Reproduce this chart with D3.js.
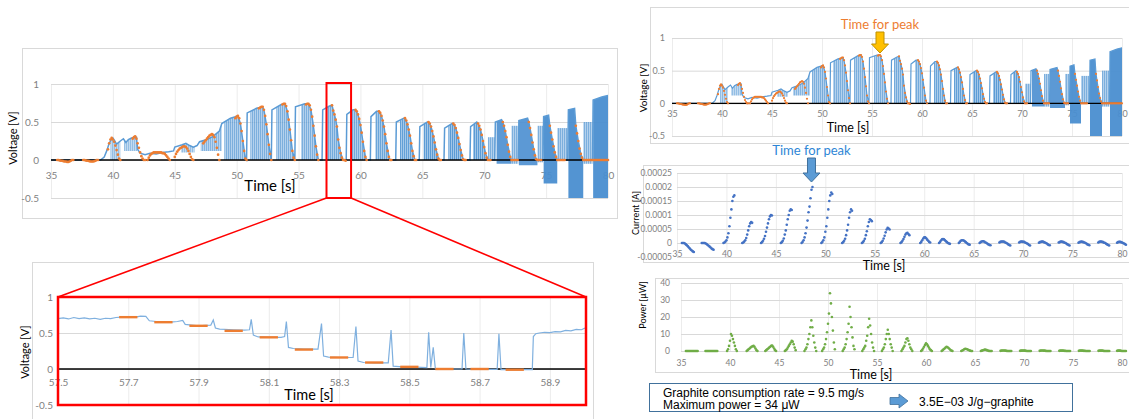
<!DOCTYPE html>
<html>
<head>
<meta charset="utf-8">
<script src="https://cdn.jsdelivr.net/npm/d3@7"></script>
<style>
  body { margin: 0; background: #fff; }
  svg { display: block; }
</style>
</head>
<body>
<svg id="fig" width="1129" height="419"></svg>
<script>
// ---- data ----
var timeTicks = [35, 40, 45, 50, 55, 60, 65, 70, 75, 80];
var voltTicks = [1, 0.5, 0, -0.5];
var zoomTicks = [57.5, 57.7, 57.9, 58.1, 58.3, 58.5, 58.7, 58.9];
var currentTicks = [0.00025, 0.0002, 0.00015, 0.0001, 0.00005, 0, -0.00005];
var powerTicks = [0, 10, 20, 30, 40];

var dt = 0.1;            // sample interval of the dotted series [s]
var voltPeakT = 55.8;    // "Time for peak" on voltage
var currentPeakT = 48.6; // "Time for peak" on current
var zoomRange = [57.5, 59.0];

// upper envelope of the blue voltage trace [t, V]
var voltTop = [[35,0],[39.0,0],[39.3,0.04],[39.5,0.12],[39.7,0.22],[39.9,0.28],[40.0,0.29],[40.15,0.25],[40.3,0.21],
  [40.6,0.25],[40.85,0.28],[41.05,0.23],[41.25,0.27],[41.5,0.29],[41.9,0.3],[42.0,0.14],[42.2,0.09],[42.6,0.07],
  [43.0,0.09],[43.5,0.08],[44.0,0.1],[44.5,0.11],[44.9,0.12],[45.0,0.17],[45.6,0.2],[45.9,0.22],[46.2,0.19],
  [46.5,0.17],[46.8,0.19],[47.0,0.24],[47.6,0.27],[48.1,0.31],[48.6,0.38],[48.8,0.48],[49.5,0.55],[49.9,0.57],
  [50.1,0.58],[50.3,0.48],[50.5,0.25],[50.7,0.02],[50.8,0],[50.85,0.62],[51.6,0.68],[52.1,0.7],[52.2,0.66],
  [52.4,0.47],[52.6,0.2],[52.8,0],[52.85,0.66],[53.6,0.73],[53.9,0.74],[54.1,0.64],[54.3,0.4],[54.5,0.12],
  [54.7,0],[54.75,0.7],[55.5,0.74],[55.8,0.74],[56.0,0.66],[56.2,0.45],[56.4,0.18],[56.6,0],[56.9,0],
  [56.95,0.66],[57.5,0.71],[57.7,0.72],[58.0,0.53],[58.1,0.44],[58.2,0.27],[58.4,0.09],[58.6,0],[58.85,0],
  [58.9,0.6],[59.4,0.66],[59.6,0.66],[59.8,0.6],[60.0,0.46],[60.2,0.24],[60.4,0.04],[60.5,0],[60.8,0],
  [60.85,0.57],[61.3,0.64],[61.5,0.64],[61.7,0.58],[61.9,0.44],[62.1,0.22],[62.3,0.04],[62.4,0],[62.85,0],
  [62.9,0.5],[63.5,0.55],[63.6,0.55],[63.8,0.47],[64.0,0.32],[64.2,0.12],[64.4,0],[64.75,0],[64.8,0.44],
  [65.4,0.5],[65.5,0.5],[65.7,0.44],[65.9,0.31],[66.1,0.14],[66.3,0.02],[66.4,0],[66.75,0],[66.8,0.42],
  [67.4,0.48],[67.5,0.48],[67.7,0.42],[67.9,0.29],[68.1,0.13],[68.3,0.01],[68.4,0],[68.85,0],[68.9,0.44],
  [69.4,0.5],[69.5,0.48],[69.7,0.4],[69.9,0.25],[70.1,0.09],[70.3,0],[70.85,0],[70.9,0.5],[71.4,0.53],
  [71.5,0.5],[71.7,0.38],[71.9,0.2],[72.1,0.04],[72.2,0],[72.75,0],[72.8,0.52],[73.5,0.55],[73.6,0.5],
  [73.8,0.33],[74.0,0.14],[74.2,0.01],[74.3,0],[74.75,0],[74.8,0.57],[75.2,0.59],[75.3,0.45],[75.5,0.27],
  [75.7,0.1],[75.9,0],[76.75,0],[76.8,0.66],[77.3,0.68],[77.4,0.45],[77.6,0.25],[77.8,0.08],[78.0,0],
  [78.75,0],[78.8,0.79],[79.5,0.83],[80,0.85]];

// dense blue switching zones under the envelope
var hatchStart = [39.8, 40.9, 45.5, 47.1, 49.0, 51.1, 53.2, 55.2, 57.2, 59.3, 61.2, 63.2, 65.1, 67.1, 69.1, 71.0, 72.8, 74.8, 76.8, 78.8];
var hatchEnd   = [40.6, 42.0, 46.6, 48.8, 50.8, 52.8, 54.7, 56.6, 58.6, 60.5, 62.4, 64.4, 66.4, 68.4, 70.3, 72.2, 74.3, 75.9, 78.0, 80.0];
var hatchLow   = [0, 0.12, 0.1, 0.12, 0, 0, 0, 0, 0, 0, 0, 0, 0, 0, 0, -0.05, -0.07, -0.31, -0.5, -0.5];
var hatchAlpha = [0.4, 0.4, 0.4, 0.5, 0.55, 0.55, 0.55, 0.55, 0.6, 0.6, 0.65, 0.7, 0.75, 0.75, 0.8, 0.9, 0.9, 0.95, 0.95, 0.95];
// lighter spike bands between the late cycles
var bandStart = [70.3, 72.2, 74.3, 75.9, 78.0];
var bandEnd   = [70.85, 72.75, 74.75, 76.75, 78.75];
var bandHigh  = [0.3, 0.45, 0.45, 0.42, 0.5];
var bandLow   = [0, -0.05, -0.03, 0, -0.05];

// orange sampled voltage, one list per cycle, starting at orangeT0 (step dt)
var orangeT0 = [35.5, 37.6, 39.6, 41.6, 42.8, 45.0, 47.3, 49.9, 51.8, 53.7, 55.6, 57.7, 59.6, 61.5, 63.6, 65.5, 67.5, 69.5, 71.5, 73.6, 75.3, 77.4, 78.6];
var orangeV = [
  [0,0,-0.005,-0.01,-0.01,-0.015,-0.02,-0.02,-0.025,-0.025,-0.02,-0.01,0,0],
  [0,0,-0.005,-0.01,-0.01,-0.015,-0.02,-0.02,-0.02,-0.015,-0.01,0,0],
  [0.14,0.22,0.27,0.29,0.27,0.24,0.19,0.13,0.07,0.02,0],
  [0.28,0.3,0.31,0.28,0.22,0.16,0.1,0.05,0.02,0,0],
  [0,0.03,0.06,0.08,0.09,0.1,0.1,0.1,0.1,0.1,0.1,0.1,0.09,0.09,0.08,0.06,0.04,0.02,0],
  [0.04,0.08,0.11,0.13,0.15,0.16,0.17,0.18,0.18,0.17,0.15,0.12,0.08,0.04,0.01,0],
  [0.22,0.24,0.26,0.28,0.3,0.32,0.33,0.34,0.33,0.3,0.24,0.16,0.07,0],
  [0.55,0.57,0.58,0.55,0.48,0.38,0.25,0.12,0.02,0],
  [0.68,0.69,0.7,0.7,0.66,0.58,0.47,0.34,0.2,0.08,0],
  [0.73,0.74,0.74,0.71,0.64,0.53,0.4,0.26,0.12,0.03,0],
  [0.73,0.74,0.74,0.72,0.66,0.57,0.45,0.32,0.18,0.07,0],
  [0.72,0.65,0.6,0.53,0.44,0.27,0.16,0.09,0.03,0,0,-0.01],
  [0.66,0.64,0.6,0.54,0.46,0.36,0.24,0.12,0.04,0],
  [0.64,0.62,0.58,0.52,0.44,0.34,0.22,0.12,0.04,0,0],
  [0.55,0.52,0.47,0.4,0.32,0.22,0.12,0.05,0,0],
  [0.5,0.48,0.44,0.38,0.31,0.23,0.14,0.07,0.02,0,0],
  [0.48,0.46,0.42,0.36,0.29,0.21,0.13,0.06,0.01,0,0],
  [0.48,0.45,0.4,0.33,0.25,0.17,0.09,0.03,0,0,0],
  [0.5,0.45,0.38,0.3,0.2,0.11,0.04,0,0,0,0,0,0],
  [0.5,0.42,0.33,0.23,0.14,0.06,0.01,0,0,0,0],
  [0.45,0.36,0.27,0.18,0.1,0.04,0,0,0,0,0,0,0],
  [0.45,0.35,0.25,0.15,0.08,0.03,0,0,0,0,0,0],
  [0,0,0,0,0,0,0,0,0,0,0,0,0,0,0]];
var zoomCycle = 11; // the cycle shown enlarged

// blue trace inside the enlarged window [t, V]
var zoomLine = [[57.5,0.70],[57.515,0.71],[57.53,0.695],[57.545,0.715],[57.56,0.7],[57.575,0.71],[57.59,0.695],
  [57.605,0.705],[57.62,0.69],[57.635,0.705],[57.65,0.7],[57.665,0.715],[57.68,0.72],[57.7,0.725],[57.72,0.72],
  [57.735,0.735],[57.75,0.73],[57.76,0.67],[57.78,0.66],[57.8,0.655],[57.82,0.65],[57.84,0.66],[57.855,0.675],
  [57.862,0.62],[57.88,0.61],[57.9,0.6],[57.92,0.605],[57.935,0.61],[57.942,0.68],[57.948,0.57],[57.96,0.555],
  [58.0,0.545],[58.03,0.54],[58.045,0.545],[58.05,0.69],[58.056,0.47],[58.07,0.445],[58.1,0.44],[58.135,0.44],
  [58.145,0.45],[58.15,0.66],[58.156,0.3],[58.17,0.285],[58.2,0.275],[58.24,0.275],[58.25,0.63],[58.256,0.18],
  [58.27,0.165],[58.3,0.16],[58.34,0.16],[58.348,0.59],[58.354,0.11],[58.37,0.09],[58.4,0.085],[58.44,0.085],
  [58.448,0.54],[58.454,0.04],[58.48,0.03],[58.52,0.025],[58.55,0.02],[58.555,0.51],[58.561,0.02],[58.568,0.3],
  [58.574,0.005],[58.6,0],[58.65,0],[58.655,0.5],[58.661,0],[58.7,-0.005],[58.75,-0.005],[58.755,0.49],
  [58.761,-0.01],[58.8,-0.01],[58.85,-0.01],[58.853,0.45],[58.86,0.49],[58.87,0.5],[58.885,0.51],[58.9,0.505],
  [58.915,0.52],[58.93,0.515],[58.945,0.535],[58.96,0.53],[58.975,0.55],[58.99,0.545],[59.0,0.57]];

// current [uA], step dt from currentT0
var currentT0 = [35.5, 37.5, 39.7, 41.6, 43.5, 45.5, 47.6, 49.6, 51.7, 53.7, 55.6, 57.6, 59.6, 61.5, 63.5, 65.6, 67.6, 69.6, 71.6, 73.6, 75.6, 77.6, 79.5];
var currentUA = [
  [0,0,0,-2,-5,-8,-12,-16,-20,-24,-27,-30,-32],
  [0,0,0,0,-2,-4,-7,-10,-13,-16,-20,-22,-24],
  [0,2,5,10,20,35,60,90,120,150,165,170],
  [0,2,5,10,18,30,45,60,70,75,72],
  [0,3,8,15,25,40,55,70,85,95,100,98],
  [0,3,8,16,30,45,65,85,100,115,120,118],
  [0,4,10,20,35,55,80,110,130,160,190,200],
  [0,4,10,20,40,60,90,120,150,170,180,175],
  [0,3,8,15,28,45,65,90,110,120,115],
  [0,3,8,15,28,42,60,75,85,82,78],
  [0,3,8,16,26,38,48,54,52,48],
  [0,3,8,14,22,30,35,36,32,28],
  [0,4,10,16,20,20,17,12,8,4,2],
  [0,4,9,13,14,13,10,6,3,0,-2,-3],
  [0,4,8,10,10,9,6,3,0,-3,-5,-6],
  [0,3,5,6,6,4,2,0,-3,-5,-7,-8],
  [2,4,5,5,5,4,2,0,-2,-5,-7,-9],
  [2,4,5,5,4,4,2,0,-2,-4,-7,-9],
  [1,3,4,5,5,3,2,0,-2,-5,-7,-8],
  [2,3,5,5,4,3,1,0,-3,-5,-7,-9],
  [1,3,4,5,4,3,2,0,-2,-5,-6,-8],
  [2,4,5,5,4,3,1,0,-3,-5,-7,-9],
  [1,3,4,4,3,2,0,-2,-4,-6]];

// power [uW], step dt from powerT0
var powerT0 = [35.5, 37.5, 39.7, 41.7, 43.6, 45.6, 47.6, 49.4, 51.5, 53.5, 55.5, 57.5, 59.5, 61.6, 63.6, 65.6, 67.6, 69.6, 71.6, 73.6, 75.6, 77.6, 79.5];
var powerUW = [
  [0,0,0,0,0,0,0,0,0,0,0,0,0],
  [0,0,0,0,0,0,0,0,0,0,0,0,0],
  [0,1,3,6,10,9,7,5,3,1,0],
  [0,0.5,1,1.5,2,2.5,2.8,3,2.5,1.5,0.5,0],
  [0,0.5,1,1.5,2,2.5,3,3.2,2.5,1.5,0.5,0],
  [0,0.5,1,2,3,4,5,6,5.5,4,2,0.5],
  [0,1,2,4,7,10,14,18,14,9,5,2,0],
  [0,1,2,4,7,11,16,22,34,28,20,12,5,1],
  [0,1,2,4,7,11,16,26,20,14,8,3,1],
  [0,1,2,3,6,9,14,19,15,10,5,2,0],
  [0,1,2,4,7,10,12.5,10,7,4,2,0],
  [0,1,2,3,5,7,7.5,6,4,2,1,0],
  [0,0.5,1.5,2.5,3.5,4.5,4,3,2,1,0.5,0],
  [0,0.5,1,1.5,2,2.5,2.2,1.8,1.2,0.6,0.2,0],
  [0,0.3,0.6,1,1.3,1.2,1,0.7,0.4,0.2,0,0],
  [0,0.2,0.4,0.6,0.8,0.7,0.5,0.3,0.1,0,0,0],
  [0.1,0.2,0.3,0.3,0.3,0.2,0.1,0,0,0,0,0],
  [0.1,0.2,0.2,0.3,0.2,0.2,0.1,0,0,0,0,0],
  [0.1,0.2,0.3,0.3,0.2,0.2,0.1,0,0,0,0,0],
  [0.1,0.2,0.2,0.2,0.2,0.1,0.1,0,0,0,0,0],
  [0.1,0.2,0.3,0.2,0.2,0.1,0.1,0,0,0,0,0],
  [0.1,0.2,0.2,0.2,0.2,0.1,0,0,0,0,0,0],
  [0.1,0.2,0.2,0.2,0.1,0,0,0,0,0]];

var noteLines = ['Graphite consumption rate = 9.5 mg/s', 'Maximum power = 34 \u03bcW'];
var noteResult = '3.5E\u221203 J/g\u2212graphite';

// ---- drawing ----
var svg = d3.select('#fig');
var FONT = 'Lato, "Open Sans", sans-serif';
var BLUE = '#5b9bd5', ORANGE = '#ed7d31';

// vertical stripe texture for the switching zones
var stripe = svg.append('defs').append('pattern')
    .attr('id', 'stripe').attr('patternUnits', 'userSpaceOnUse')
    .attr('width', 2).attr('height', 6);
stripe.append('rect').attr('width', 2).attr('height', 6).attr('fill', '#a9cbeb');
stripe.append('rect').attr('width', 1.1).attr('height', 6).attr('fill', BLUE);

function samples(t0s, vals, k) {
  var pts = [];
  t0s.forEach(function(t0, i) {
    vals[i].forEach(function(v, j) {
      pts.push({t: t0 + j * dt, v: v * (k || 1)});
    });
  });
  return pts;
}

function frame(x0, y0, x1, y1) {
  svg.append('rect')
    .attr('x', x0 + 0.5).attr('y', y0 + 0.5)
    .attr('width', x1 - x0).attr('height', y1 - y0)
    .attr('fill', '#fff').attr('stroke', '#d9d9d9');
}

function labels(a, fs) {
  a.select('.domain').remove();
  a.selectAll('text').attr('fill', '#7f7f7f').attr('font-size', fs).attr('font-family', FONT);
}

// grid + tick labels for one plot
function chart(o) {
  var x = o.x, y = o.y,
      top = y.range()[1], bot = y.range()[0],
      left = x.range()[0], right = x.range()[1];
  var g = svg.append('g');

  g.append('g').attr('transform', 'translate(0,' + bot + ')')
    .call(d3.axisBottom(x).tickValues(o.xTicks).tickSize(top - bot).tickFormat(''))
    .call(function(a) { a.select('.domain').remove(); a.selectAll('line').attr('stroke', '#ececec'); });

  g.append('g').attr('transform', 'translate(' + left + ',0)')
    .call(d3.axisLeft(y).tickValues(o.yTicks).tickSize(left - right).tickFormat(''))
    .call(function(a) { a.select('.domain').remove(); a.selectAll('line').attr('stroke', '#d9d9d9'); });

  g.append('g').attr('transform', 'translate(0,' + y(o.xAxisAt) + ')')
    .call(d3.axisBottom(x).tickValues(o.xTicks).tickSize(0).tickPadding(o.xPad).tickFormat(String))
    .call(labels, o.fs);

  g.append('g').attr('transform', 'translate(' + left + ',0)')
    .call(d3.axisLeft(y).tickValues(o.yTicks).tickSize(0).tickPadding(o.yPad).tickFormat(String))
    .call(labels, o.fs);

  g.append('text').attr('transform', 'translate(' + o.yl[0] + ',' + o.yl[1] + ') rotate(-90)')
    .attr('text-anchor', 'middle').attr('dy', '0.35em')
    .attr('font-size', o.yl[2]).attr('font-family', FONT).attr('fill', '#000').text(o.yTitle);

  g.append('text').attr('x', o.xl[0]).attr('y', o.xl[1])
    .attr('text-anchor', 'middle').attr('font-size', o.xl[2])
    .attr('font-family', FONT).attr('fill', '#000').text('Time [s]');
  return g;
}

function zeroLine(g, x, y, w) {
  g.append('line')
    .attr('x1', x.range()[0]).attr('x2', x.range()[1])
    .attr('y1', y(0)).attr('y2', y(0))
    .attr('stroke', '#000').attr('stroke-width', w);
}

// voltage trace: hatch zones, envelope, zero line, orange samples
function drawVolt(key, x, y, lw, r) {
  var g = svg.append('g'),
      env = voltTop.map(function(d) { return {t: d[0], v: d[1]}; }),
      defs = g.append('defs');

  g.selectAll('rect.band').data(bandStart).enter().append('rect')
    .attr('class', 'band')
    .attr('x', function(d) { return x(d); })
    .attr('width', function(d, i) { return x(bandEnd[i]) - x(d); })
    .attr('y', function(d, i) { return y(bandHigh[i]); })
    .attr('height', function(d, i) { return y(bandLow[i]) - y(bandHigh[i]); })
    .attr('fill', 'url(#stripe)').attr('fill-opacity', 0.8);

  hatchStart.forEach(function(s, i) {
    var id = key + 'h' + i, dark = hatchAlpha[i] >= 0.9;
    defs.append('clipPath').attr('id', id).append('rect')
      .attr('x', x(s)).attr('width', x(hatchEnd[i]) - x(s))
      .attr('y', 0).attr('height', 419);
    g.append('path').datum(env)
      .attr('clip-path', 'url(#' + id + ')')
      .attr('fill', dark ? '#4a8ed0' : 'url(#stripe)')
      .attr('fill-opacity', dark ? hatchAlpha[i] : Math.min(1, hatchAlpha[i] + 0.25))
      .attr('d', d3.area()
        .x(function(d) { return x(d.t); })
        .y0(y(hatchLow[i]))
        .y1(function(d) { return y(d.v); }));
  });

  g.append('path').datum(env)
    .attr('fill', 'none').attr('stroke', BLUE).attr('stroke-width', lw)
    .attr('d', d3.line().x(function(d) { return x(d.t); }).y(function(d) { return y(d.v); }));

  zeroLine(g, x, y, 1.4);

  g.selectAll('circle').data(samples(orangeT0, orangeV)).enter().append('circle')
    .attr('cx', function(d) { return x(d.t); })
    .attr('cy', function(d) { return y(d.v); })
    .attr('r', r).attr('fill', ORANGE);
}

function drawDots(x, y, pts, col, r) {
  svg.append('g').selectAll('circle').data(pts).enter().append('circle')
    .attr('cx', function(d) { return x(d.t); })
    .attr('cy', function(d) { return y(d.v); })
    .attr('r', r).attr('fill', col);
}

function downArrow(cx, y0, y1, fill, stroke) {
  var hw = 8.5, sw = 4, hy = y1 - 9;
  svg.append('path')
    .attr('d', 'M' + (cx - sw) + ',' + y0 + 'H' + (cx + sw) + 'V' + hy + 'H' + (cx + hw) +
      'L' + cx + ',' + y1 + 'L' + (cx - hw) + ',' + hy + 'H' + (cx - sw) + 'Z')
    .attr('fill', fill).attr('stroke', stroke).attr('stroke-width', 1);
}

// ---- A: main voltage chart ----
var xA = d3.scaleLinear().domain([35, 80]).range([51, 608]);
var yA = d3.scaleLinear().domain([-0.5, 1]).range([198, 84]);
frame(22, 48, 617, 218);
chart({x: xA, y: yA, xTicks: timeTicks, yTicks: voltTicks, xAxisAt: 0, xPad: 12, yPad: 12, fs: 10,
  yTitle: 'Voltage [V]', yl: [13, 138, 11], xl: [270, 191, 15]});
drawVolt('a', xA, yA, 1.5, 1.35);

// ---- B: enlarged window ----
var xB = d3.scaleLinear().domain(zoomRange).range([58, 585]);
var yB = d3.scaleLinear().domain([-0.5, 1]).range([405, 297]);
frame(32, 262, 593, 430);
var gB = chart({x: xB, y: yB, xTicks: zoomTicks, yTicks: voltTicks, xAxisAt: 0, xPad: 10, yPad: 5, fs: 10,
  yTitle: 'Voltage [V]', yl: [25, 352, 11], xl: [309, 400, 14.5]});
zeroLine(gB, xB, yB, 1.5);
gB.append('path').datum(zoomLine)
  .attr('fill', 'none').attr('stroke', '#7fb0df').attr('stroke-width', 1.2)
  .attr('d', d3.line().x(function(d) { return xB(d[0]); }).y(function(d) { return yB(d[1]); }));
gB.selectAll('line.seg').data(orangeV[zoomCycle]).enter().append('line')
  .attr('class', 'seg')
  .attr('x1', function(d, i) { return xB(orangeT0[zoomCycle] + i * dt - 0.026); })
  .attr('x2', function(d, i) { return xB(orangeT0[zoomCycle] + i * dt + 0.026); })
  .attr('y1', function(d) { return yB(d); }).attr('y2', function(d) { return yB(d); })
  .attr('stroke', ORANGE).attr('stroke-width', 2.4);

// red highlight + connectors
var rx0 = xA(zoomRange[0]) - 3, rx1 = xA(zoomRange[1]) + 3;
svg.append('rect').attr('x', rx0).attr('y', yA(1) - 1).attr('width', rx1 - rx0).attr('height', yA(-0.5) - yA(1) + 1)
  .attr('fill', 'none').attr('stroke', '#ff0000').attr('stroke-width', 2);
svg.append('line').attr('x1', rx0).attr('y1', yA(-0.5)).attr('x2', xB(zoomRange[0])).attr('y2', yB(1))
  .attr('stroke', '#ff0000').attr('stroke-width', 1.6);
svg.append('line').attr('x1', rx1).attr('y1', yA(-0.5)).attr('x2', xB(zoomRange[1]) + 1).attr('y2', yB(1))
  .attr('stroke', '#ff0000').attr('stroke-width', 1.6);
svg.append('rect').attr('x', xB(zoomRange[0])).attr('y', yB(1))
  .attr('width', xB(zoomRange[1]) + 1 - xB(zoomRange[0])).attr('height', yB(-0.5) - yB(1))
  .attr('fill', 'none').attr('stroke', '#ff0000').attr('stroke-width', 2.5);

// ---- C: voltage, right ----
var xC = d3.scaleLinear().domain([35, 80]).range([672, 1122]);
var yC = d3.scaleLinear().domain([-0.5, 1]).range([136, 38]);
frame(650, 7, 1135, 143);
chart({x: xC, y: yC, xTicks: timeTicks, yTicks: voltTicks, xAxisAt: 0, xPad: 7, yPad: 7, fs: 9,
  yTitle: 'Voltage [V]', yl: [643, 88, 10], xl: [848, 132, 12.5]});
drawVolt('c', xC, yC, 1.2, 1.1);
svg.append('text').attr('x', xC(voltPeakT)).attr('y', 29).attr('text-anchor', 'middle')
  .attr('font-size', 13).attr('font-family', FONT).attr('fill', ORANGE).text('Time for peak');
downArrow(xC(voltPeakT), 32, 53, '#ffc000', '#bf9000');

// ---- D: current ----
var xD = d3.scaleLinear().domain([35, 80]).range([677, 1122]);
var yD = d3.scaleLinear().domain([-0.00005, 0.00025]).range([257, 173]);
frame(643, 165, 1135, 262);
chart({x: xD, y: yD, xTicks: timeTicks, yTicks: currentTicks, xAxisAt: -0.00005, xPad: -6, yPad: 5, fs: 8.5,
  yTitle: 'Current [A]', yl: [636, 213, 9], xl: [884, 270, 12.5]});
drawDots(xD, yD, samples(currentT0, currentUA, 1e-6), '#4472c4', 1.3);
svg.append('text').attr('x', xD(currentPeakT)).attr('y', 155).attr('text-anchor', 'middle')
  .attr('font-size', 13).attr('font-family', FONT).attr('fill', '#2e86d6').text('Time for peak');
downArrow(xD(currentPeakT), 158, 182, BLUE, '#41719c');

// ---- E: power ----
var xE = d3.scaleLinear().domain([35, 80]).range([681, 1122]);
var yE = d3.scaleLinear().domain([0, 40]).range([351, 283]);
frame(655, 278, 1135, 372);
chart({x: xE, y: yE, xTicks: timeTicks, yTicks: powerTicks, xAxisAt: 0, xPad: 9, yPad: 11, fs: 8.5,
  yTitle: 'Power [\u03bcW]', yl: [643, 305, 9], xl: [871, 379, 12.5]});
drawDots(xE, yE, samples(powerT0, powerUW), '#70ad47', 1.3);

// ---- note box ----
svg.append('rect').attr('x', 649.5).attr('y', 383.5).attr('width', 423).attr('height', 28)
  .attr('fill', '#fff').attr('stroke', '#41719c').attr('stroke-width', 1);
svg.append('g').selectAll('text').data(noteLines).enter().append('text')
  .attr('x', 663).attr('y', function(d, i) { return 397 + i * 12; })
  .attr('font-size', 12).attr('font-family', '"Liberation Sans", Arial, sans-serif').attr('fill', '#000')
  .text(function(d) { return d; });
svg.append('path')
  .attr('d', 'M890,397.5H899V394L908,401L899,408V404.5H890Z')
  .attr('fill', BLUE).attr('stroke', '#41719c').attr('stroke-width', 0.8);
svg.append('text').attr('x', 919).attr('y', 406)
  .attr('font-size', 12).attr('font-family', '"Liberation Sans", Arial, sans-serif').attr('fill', '#000')
  .text(noteResult);
</script>
</body>
</html>
